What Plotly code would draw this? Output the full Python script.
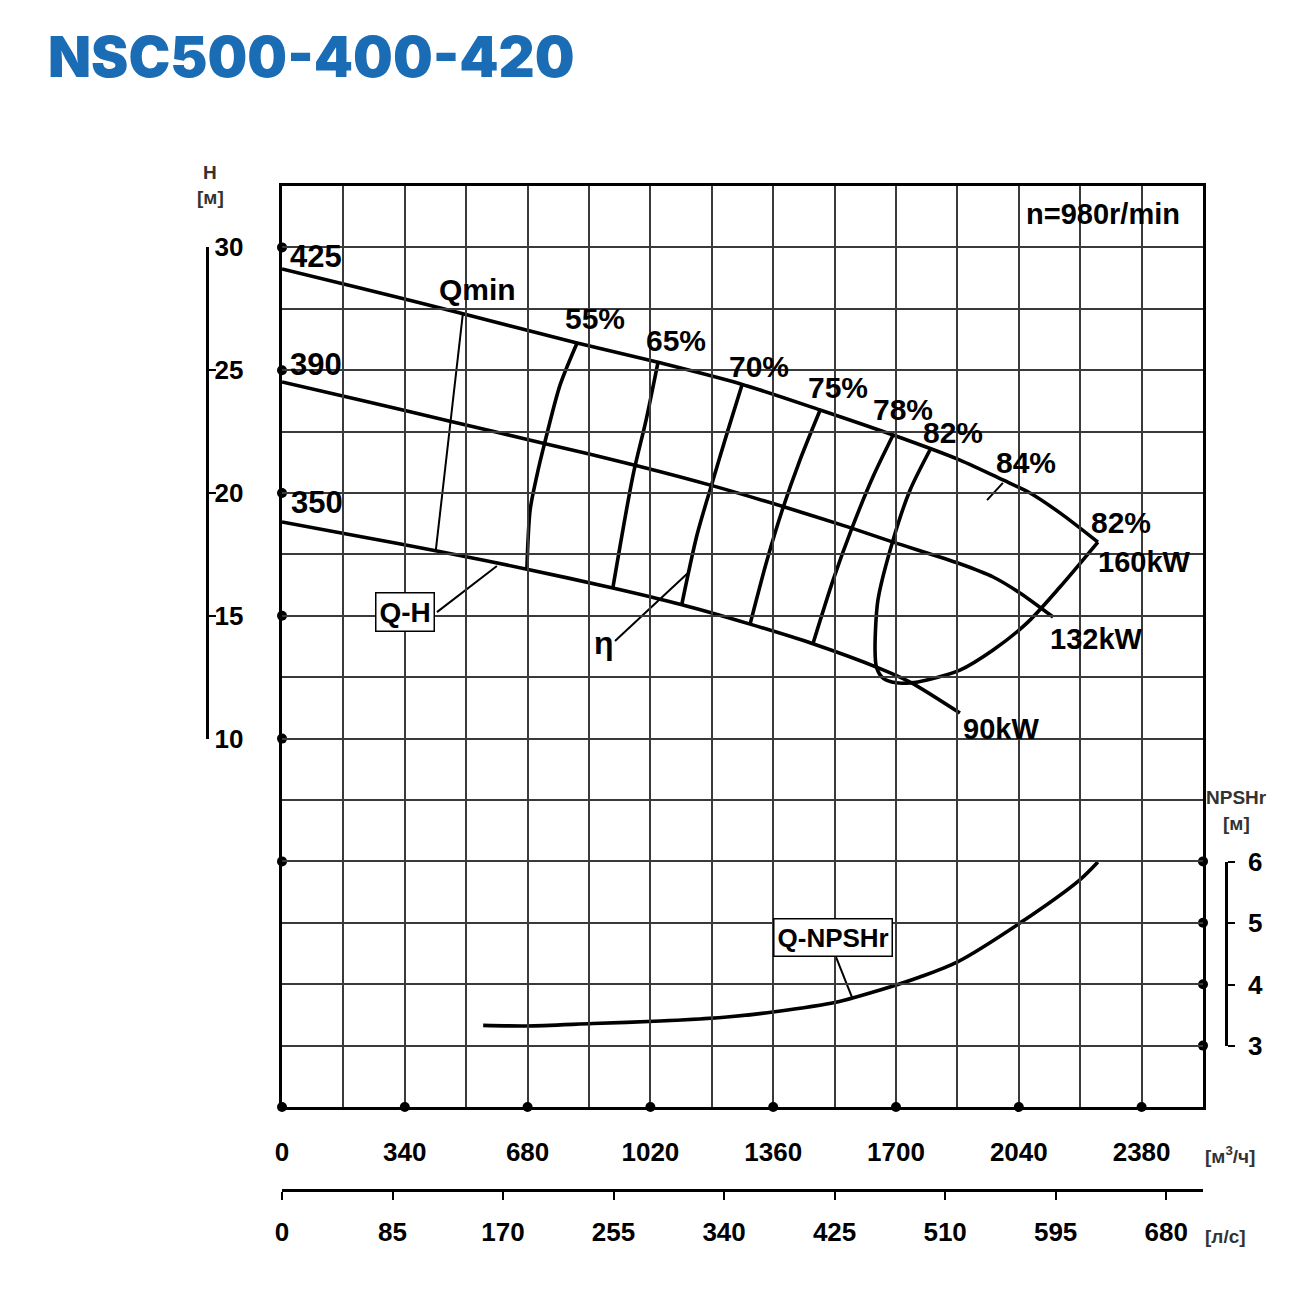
import plotly.graph_objects as go

# ---------------- data (Q in m3/h, H in m, NPSHr in m) ----------------
q_425 = [0, 216, 493, 817, 1047, 1268, 1490, 1692, 1877, 1996, 2071, 2154, 2259]
h_425 = [29.12, 28.35, 27.33, 26.11, 25.30, 24.45, 23.38, 22.36, 21.34, 20.53, 20.0, 19.19, 18.0]

q_390 = [0, 216, 465, 723, 991, 1191, 1387, 1573, 1692, 1877, 1969, 2043, 2135]
h_390 = [24.52, 23.79, 22.92, 22.03, 21.08, 20.30, 19.45, 18.59, 18.0, 17.12, 16.58, 15.93, 14.95]

q_350 = [0, 216, 429, 678, 916, 1102, 1296, 1470, 1656, 1739, 1877]
h_350 = [18.82, 18.23, 17.64, 16.90, 16.13, 15.47, 14.66, 13.86, 12.85, 12.30, 11.04]

q_eff55 = [817, 770, 728, 706, 687, 678]
h_eff55 = [26.11, 24.40, 22.08, 20.73, 19.31, 16.90]
q_eff65 = [1041, 1008, 972, 916]
h_eff65 = [25.32, 22.97, 20.73, 16.13]
q_eff70 = [1274, 1235, 1191, 1149, 1107]
h_eff70 = [24.42, 22.57, 20.41, 18.29, 15.47]
q_eff75 = [1490, 1434, 1387, 1343, 1296]
h_eff75 = [23.38, 21.34, 19.39, 17.27, 14.66]
q_eff78 = [1692, 1636, 1578, 1526, 1470]
h_eff78 = [22.36, 20.65, 18.57, 16.46, 13.86]
q_eff82 = [1794, 1739, 1692, 1650, 1642, 1646, 1665, 1700, 1740, 1786, 1877, 1969, 2063, 2154, 2259]
h_eff82 = [21.75, 20.12, 18.09, 15.64, 13.61, 12.90, 12.45, 12.27, 12.27, 12.39, 12.79, 13.61, 14.71, 16.17, 18.0]
q_eff84_tick = [1952, 1996]
h_eff84_tick = [19.71, 20.41]

q_qmin = [501, 426]
h_qmin = [27.33, 17.68]

q_npsh = [557, 678, 861, 1047, 1232, 1359, 1537, 1656, 1766, 1869, 2043, 2209, 2259]
npsh = [3.33, 3.32, 3.36, 3.40, 3.465, 3.547, 3.71, 3.905, 4.117, 4.36, 4.996, 5.70, 5.99]

# leader lines for the labels
q_lead_qh = [595, 429]
h_lead_qh = [17.03, 15.15]
q_lead_eta = [1124, 922]
h_lead_eta = [16.74, 13.97]
q_lead_npsh = [1534, 1578]
n_lead_npsh = [4.44, 3.79]

# axis ticks
q_ticks = [0, 340, 680, 1020, 1360, 1700, 2040, 2380]
q_labels = ["0", "340", "680", "1020", "1360", "1700", "2040", "2380"]
q_grid_step = 170
ls_ticks = [0, 85, 170, 255, 340, 425, 510, 595, 680]
h_ticks = [10, 15, 20, 25, 30]
npsh_ticks = [3, 4, 5, 6]
h_grid_step = 2.5

# ---------------- figure ----------------
LAB = "Liberation Sans, Arial, sans-serif"
GRID = "#3a3a3a"
fig = go.Figure()

thick = dict(color="black", width=3.6, shape="spline", smoothing=0.8)
for qs, hs in [(q_425, h_425), (q_390, h_390), (q_350, h_350),
               (q_eff55, h_eff55), (q_eff65, h_eff65), (q_eff70, h_eff70),
               (q_eff75, h_eff75), (q_eff78, h_eff78), (q_eff82, h_eff82)]:
    fig.add_trace(go.Scatter(x=qs, y=hs, mode="lines", line=thick, hoverinfo="skip"))

thin = dict(color="black", width=2)
for qs, hs in [(q_qmin, h_qmin), (q_eff84_tick, h_eff84_tick),
               (q_lead_qh, h_lead_qh), (q_lead_eta, h_lead_eta)]:
    fig.add_trace(go.Scatter(x=qs, y=hs, mode="lines", line=thin, hoverinfo="skip"))

fig.add_trace(go.Scatter(x=q_npsh, y=npsh, yaxis="y2", mode="lines", line=thick, hoverinfo="skip"))
fig.add_trace(go.Scatter(x=q_lead_npsh, y=n_lead_npsh, yaxis="y2", mode="lines", line=thin, hoverinfo="skip"))

dot = dict(color="black", size=10)
fig.add_trace(go.Scatter(x=[0] * len(h_ticks), y=h_ticks, mode="markers", marker=dot, cliponaxis=False))
fig.add_trace(go.Scatter(x=q_ticks, y=[-5] * len(q_ticks), mode="markers", marker=dot, cliponaxis=False))
fig.add_trace(go.Scatter(x=[2550] * len(npsh_ticks), y=npsh_ticks, yaxis="y2", mode="markers",
                         marker=dot, cliponaxis=False))
fig.add_trace(go.Scatter(x=[0], y=[6], yaxis="y2", mode="markers", marker=dot, cliponaxis=False))

# empty traces to attach decorative axes
fig.add_trace(go.Scatter(x=[None], y=[None], xaxis="x2", yaxis="y", mode="markers"))
fig.add_trace(go.Scatter(x=[None], y=[None], xaxis="x", yaxis="y3", mode="markers"))
fig.add_trace(go.Scatter(x=[None], y=[None], xaxis="x", yaxis="y4", mode="markers"))

W, HT = 1310, 1295
ML, MR, MT, MB = 150, 40, 186, 105
PW, PH = W - ML - MR, HT - MT - MB
def px(x):
    return (x - ML) / PW
def py(y):
    return (HT - MB - y) / PH

XDOM = [px(282), px(1203)]
tickfont = dict(family=LAB, size=26, color="black", weight="bold")

fig.update_layout(
    width=W, height=HT,
    margin=dict(l=ML, r=MR, t=MT, b=MB, pad=0),
    paper_bgcolor="white", plot_bgcolor="rgba(0,0,0,0)",
    showlegend=False,
    title=dict(text="NSC500-400-420", x=48 / W, xanchor="left", xref="container",
               y=1 - 57 / HT, yanchor="middle", yref="container",
               font=dict(family="Inter, Lato, sans-serif", size=56, color="#1a6cb4", weight=900)),
    xaxis=dict(domain=XDOM, range=[0, 2550], tickmode="array", tickvals=q_ticks, ticktext=q_labels,
               showgrid=True, gridcolor=GRID, gridwidth=1.6, zeroline=False,
               minor=dict(tick0=0, dtick=q_grid_step, showgrid=True, gridcolor=GRID, gridwidth=1.6,
                          ticks=""),
               showline=True, linewidth=3, linecolor="black", mirror=True,
               ticks="", tickfont=tickfont, ticklabelstandoff=20, anchor="y"),
    yaxis=dict(domain=[py(1107), py(186)], range=[-5, 32.5], tick0=-5, dtick=h_grid_step,
               showticklabels=False, showgrid=True, gridcolor=GRID, gridwidth=1.6, zeroline=False,
               showline=True, linewidth=3, linecolor="black", mirror=True, ticks=""),
    yaxis2=dict(overlaying="y", range=[2, 17], visible=False),
    xaxis2=dict(domain=XDOM, range=[0, 2550 / 3.6], anchor="free", position=0, side="bottom",
                tickmode="array", tickvals=ls_ticks, ticks="outside", ticklen=8, tickwidth=2,
                tickcolor="black", showgrid=False, zeroline=False,
                showline=True, linewidth=3, linecolor="black", tickfont=tickfont,
                ticklabelstandoff=10),
    yaxis3=dict(domain=[py(739), py(247)], range=[10, 30], anchor="free", position=px(207),
                side="left", tickmode="array", tickvals=h_ticks, ticks="inside", ticklen=7,
                tickwidth=2, tickcolor="black", ticklabelposition="inside", ticklabeloverflow="allow",
                showgrid=False, zeroline=False, showline=True, linewidth=2.5, linecolor="black",
                tickfont=tickfont, ticklabelstandoff=1),
    yaxis4=dict(domain=[py(1046), py(862)], range=[3, 6], anchor="free", position=px(1226),
                side="right", tickmode="array", tickvals=npsh_ticks, ticks="outside", ticklen=7,
                tickwidth=2, tickcolor="black", showgrid=False, zeroline=False,
                showline=True, linewidth=2.5, linecolor="black", tickfont=tickfont,
                ticklabelstandoff=8),
)

def lab(text, x, y, size=30, yref="y", **kw):
    fig.add_annotation(text=text, x=x, y=y, xref="x", yref=yref, showarrow=False,
                       xanchor="center", yanchor="middle",
                       font=dict(family=LAB, size=size, color="black", weight="bold"), **kw)

lab("425", 94, 29.65, size=31)
lab("390", 94, 25.25, size=31)
lab("350", 97, 19.6, size=31)
lab("Qmin", 540, 28.3)
lab("55%", 867, 27.1)
lab("65%", 1091, 26.2)
lab("70%", 1321, 25.15)
lab("75%", 1539, 24.3)
lab("78%", 1719, 23.4)
lab("82%", 1858, 22.45)
lab("84%", 2060, 21.25)
lab("82%", 2323, 18.8)
lab("160kW", 2389, 17.2, size=29)
lab("132kW", 2256, 14.05, size=29)
lab("90kW", 1991, 10.4, size=29)
lab("n=980r/min", 2273, 31.35, size=29)
lab("η", 892, 13.9, size=32)
lab("Q-H", 341, 15.15, size=28, bordercolor="black", borderwidth=1.5, borderpad=3, bgcolor="white")
lab("Q-NPSHr", 1526, 4.76, size=26, yref="y2", bordercolor="black", borderwidth=1.5,
    borderpad=3, bgcolor="white")

unit_font = dict(family=LAB, size=19, color="#333333", weight="bold")
for text, x, y in [("H", 210, 172), ("[м]", 210, 197), ("NPSHr", 1236, 797), ("[м]", 1236, 823),
                   ("[м<sup>3</sup>/ч]", 1230, 1155), ("[л/с]", 1225, 1236)]:
    fig.add_annotation(text=text, x=px(x), y=py(y), xref="paper", yref="paper",
                       xanchor="center", yanchor="middle",
                       showarrow=False, font=unit_font)

fig.write_html("out.html")
